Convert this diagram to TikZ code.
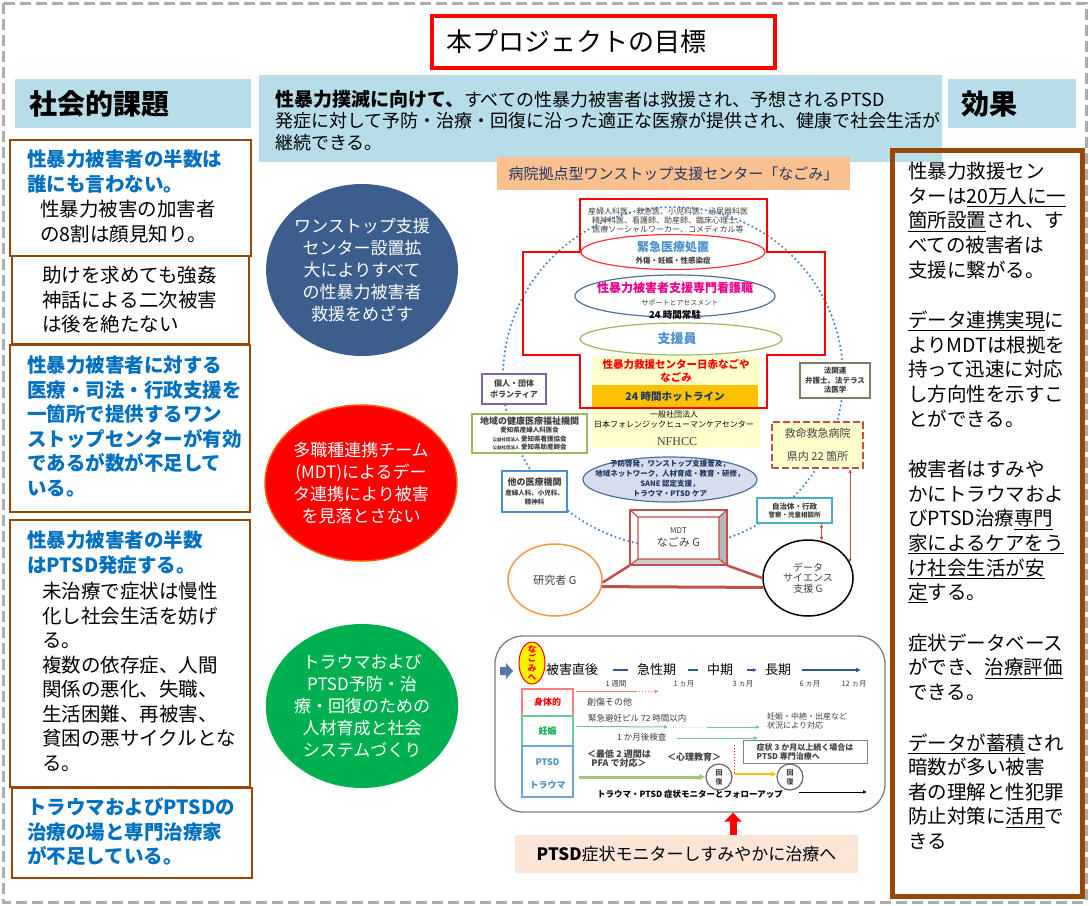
\documentclass[tikz,border=0pt]{standalone}
\usepackage{fontspec}
\setmainfont{Noto Sans CJK JP}
\newfontfamily\nfserif{Liberation Serif}
\usetikzlibrary{shapes.geometric,arrows.meta,positioning,calc}

\definecolor{hdrblue}{RGB}{183,222,232}
\definecolor{kadai}{RGB}{152,72,6}
\definecolor{txtblue}{RGB}{0,112,192}
\definecolor{circblue}{RGB}{59,94,140}
\definecolor{circgreen}{RGB}{0,176,80}
\definecolor{peach}{RGB}{250,192,143}
\definecolor{lightpeach}{RGB}{251,229,214}
\definecolor{dotblue}{RGB}{68,134,204}
\definecolor{lightyel}{RGB}{255,255,204}
\definecolor{hotline}{RGB}{255,192,0}
\definecolor{dkred}{RGB}{192,80,77}
\definecolor{navy}{RGB}{31,56,100}
\definecolor{txtgray}{RGB}{64,64,64}
\definecolor{grnline}{RGB}{155,187,89}
\definecolor{purpline}{RGB}{128,100,162}
\definecolor{houline}{RGB}{127,127,100}
\definecolor{boxblue}{RGB}{74,144,208}
\definecolor{sky}{RGB}{75,172,198}
\definecolor{yobou}{RGB}{214,222,238}
\definecolor{yoboudraw}{RGB}{79,111,160}
\definecolor{orangeline}{RGB}{247,150,70}
\definecolor{lgreen}{RGB}{102,204,153}
\definecolor{lred}{RGB}{255,124,128}
\definecolor{pfa}{RGB}{169,196,127}
\definecolor{phase}{RGB}{47,85,151}

\newcommand{\fsz}[2]{\fontsize{#1}{#2}\selectfont}

\tikzset{
  kadaibox/.style={draw=kadai, line width=2pt},
  bluetxt/.style={anchor=north west, inner sep=0pt, align=left, text=txtblue, font=\bfseries\fsz{19.5}{24.5}},
  blacktxt/.style={anchor=north west, inner sep=0pt, align=left, font=\fsz{19.5}{24.5}},
  aim/.style={ellipse, minimum width=188pt, minimum height=172pt, inner sep=0pt, text=white, align=center, font=\fsz{17}{22}},
  ell/.style={ellipse, inner sep=0pt, line width=1.2pt},
  org/.style={draw, fill=white, line width=1.2pt, inner sep=0pt, align=center, text=txtgray},
  lbl/.style={inner sep=0pt, align=center, text=txtgray},
  tltext/.style={inner sep=0pt, anchor=west, text=txtgray},
}

\begin{document}
\begin{tikzpicture}[x=1pt,y=-1pt]
\useasboundingbox (0,0) rectangle (1089,905);
\fill[white] (0,0) rectangle (1089,905);

% outer frame
\draw[gray!65, line width=3pt, dash pattern=on 11pt off 5pt] (3,3) rectangle (1086,902);

% title and headers
\draw[red, line width=4pt] (432,16) rectangle (775,68);
\node[anchor=west, inner sep=0pt, font=\fsz{26}{30}] (title) at (446,42) {本プロジェクトの目標};

\fill[hdrblue] (15,79) rectangle (251,128);
\node[anchor=west, inner sep=0pt, font=\bfseries\fsz{28}{30}] (kadaihead) at (29,104) {社会的課題};
\fill[hdrblue] (259,75) rectangle (942,162);
\node[anchor=north west, inner sep=0pt, align=left, font=\fsz{18}{21.5}] (goal) at (275,90)
  {{\bfseries\fsz{19}{21.5}性暴力撲滅に向けて、}すべての性暴力被害者は救援され、予想されるPTSD\\発症に対して予防・治療・回復に沿った適正な医療が提供され、健康で社会生活が\\継続できる。};
\fill[hdrblue] (948,79) rectangle (1076,128);
\node[anchor=west, inner sep=0pt, font=\bfseries\fsz{28}{30}] (kouka) at (961,104) {効果};

% social issues
\draw[kadaibox] (10,140) rectangle (251,256);
\node[bluetxt] (k1a) at (27,150) {性暴力被害者の半数は\\誰にも言わない。};
\node[blacktxt] (k1b) at (40,200) {性暴力被害の加害者\\の8割は顔見知り。};
\draw[kadaibox] (12,256) rectangle (249,344);
\node[blacktxt] (k2) at (42,266) {助けを求めても強姦\\神話による二次被害\\は後を絶たない};
\draw[kadaibox] (10,345) rectangle (250,512);
\node[bluetxt] (k3) at (27,356) {性暴力被害者に対する\\医療・司法・行政支援を\\一箇所で提供するワン\\ストップセンターが有効\\であるが数が不足して\\いる。};
\draw[kadaibox] (10,520) rectangle (250,787);
\node[bluetxt] (k4a) at (27,531) {性暴力被害者の半数\\はPTSD発症する。};
\node[blacktxt] (k4b) at (42,582) {未治療で症状は慢性\\化し社会生活を妨げ\\る。\\複数の依存症、人間\\関係の悪化、失職、\\生活困難、再被害、\\貧困の悪サイクルとな\\る。};
\draw[kadaibox] (12,788) rectangle (252,878);
\node[bluetxt] (k5) at (27,798) {トラウマおよびPTSDの\\治療の場と専門治療家\\が不足している。};

% aims
\node[aim, fill=circblue] (aim1) at (362,270) {ワンストップ支援\\センター設置拡\\大によりすべて\\の性暴力被害者\\救援をめざす};
\node[aim, fill=red, draw=orange!70!red, line width=1.5pt, minimum height=156pt] (aim2) at (361,483) {多職種連携チーム\\(MDT)によるデー\\タ連携により被害\\を見落とさない};
\node[aim, fill=circgreen, minimum height=164pt] (aim3) at (362,706) {トラウマおよび\\PTSD予防・治\\療・回復のための\\人材育成と社会\\システムづくり};

% hospital one-stop centre
\node[fill=peach, minimum width=353pt, minimum height=33pt, inner sep=0pt, text=navy, font=\fsz{15}{18}] (hosp) at (673.5,173.5) {病院拠点型ワンストップ支援センター「なごみ」};

\draw[dotblue, line width=2.4pt, dash pattern=on 0pt off 4.5pt, line cap=round] (673,377) circle (170pt);
\fill[lightyel] (592,356) rectangle (760,448);
\node[fill=hotline, minimum width=166pt, minimum height=23pt, inner sep=0pt, text=navy, font=\bfseries\fsz{10.5}{12}] (hotl) at (675,396.5) {24 時間ホットライン};
\draw[red, line width=2.2pt] (580,199) -- (767,199) -- (767,252) -- (825,252) -- (825,355) -- (767,355)
  -- (767,408) -- (580,408) -- (580,355) -- (523,355) -- (523,252) -- (580,252) -- cycle;

\node[lbl, font=\fsz{8}{8.7}] (staff) at (668,220.5) {産婦人科医、救急医、小児科医、泌尿器科医\\精神科医、看護師、助産師、臨床心理士、\\医療ソーシャルワーカー、コメディカル等};
\node[ell, draw=red!80, minimum width=184pt, minimum height=35pt] (kinkyu) at (673,252) {};
\node[lbl, text=boxblue, font=\bfseries\fsz{12}{13}] (kinkyut) at (673,247) {緊急医療処置};
\node[lbl, font=\bfseries\fsz{7.5}{9}] (kinkyus) at (673,261) {外傷・妊娠・性感染症};
\node[ell, draw=yoboudraw, minimum width=200pt, minimum height=42pt] (kango) at (675,296) {};
\node[lbl, text=magenta, font=\bfseries\fsz{12}{13}] (kangot) at (675,288) {性暴力被害者支援専門看護職};
\node[lbl, font=\fsz{7}{8}] (kangos) at (680,303) {サポートとアセスメント};
\node[lbl, text=black, font=\bfseries\fsz{9.5}{10}] (kango24) at (675,315) {24 時間常駐};
\node[ell, draw=grnline, minimum width=202pt, minimum height=32pt] (shienin) at (681,339) {};
\node[lbl, text=boxblue, font=\bfseries\fsz{13}{14}] (shienint) at (677,339) {支援員};
\node[lbl, text=red, font=\bfseries\fsz{10.5}{12.5}] (nagoya) at (676,371) {性暴力救援センター日赤なごや\\なごみ};
\node[lbl, text=black, font=\fsz{8}{9.5}] (nfhcc) at (674,419.5) {一般社団法人\\日本フォレンジックヒューマンケアセンター};
\node[lbl, font=\nfserif\fsz{12}{13}] (nfhccs) at (677,442) {NFHCC};

\node[org, draw=purpline, minimum width=64pt, minimum height=30pt, font=\bfseries\fsz{8}{10.5}] (kojin) at (514,389) {個人・団体\\ボランティア};
\node[org, draw=houline, minimum width=70pt, minimum height=35pt, font=\bfseries\fsz{7.5}{9.5}] (houkan) at (835,380.5) {法関連\\弁護士、法テラス\\法医学};
\node[org, draw=grnline, minimum width=115pt, minimum height=39pt, font=\bfseries\fsz{6.5}{8.5}] (chiiki) at (529.5,433.5)
  {{\fsz{9}{10}地域の健康医療福祉機関}\\愛知県産婦人科医会\\{\fsz{4.5}{8.5}公益社団法人}\ 愛知県看護協会\\{\fsz{4.5}{8.5}公益社団法人}\ 愛知県助産師会};
\node[org, draw=boxblue, minimum width=65pt, minimum height=41pt, font=\bfseries\fsz{6.5}{9.5}] (hoka) at (534.5,491.5) {{\fsz{9}{10}他の医療機関}\\産婦人科、小児科、\\精神科};
\node[org, draw=dkred, dash pattern=on 7pt off 3pt, fill=lightyel, line width=2pt, minimum width=91pt, minimum height=46pt, font=\fsz{11}{23}] (kyumei) at (817.5,445) {救命救急病院\\県内 22 箇所};
\node[org, draw=sky, minimum width=75pt, minimum height=25pt, font=\bfseries\fsz{7.5}{8.5}] (jichi) at (794.5,510.5) {自治体・行政\\{\fsz{6.5}{8.5}警察・児童相談所}};
\node[ell, fill=yobou, draw=yoboudraw, minimum width=174pt, minimum height=45pt] (yobou) at (670,479.5) {};
\node[lbl, text=navy, font=\bfseries\fsz{7.5}{9.8}] (yoboutxt) at (670,478.5) {予防啓発，ワンストップ支援普及，\\地域ネットワーク，人材育成・教育・研修，\\SANE 認定支援，\\トラウマ・PTSD ケア};

% MDT frame
\fill[gray!55] (727,510) -- (727,565) -- (719,559) -- (719,517) -- cycle;
\fill[gray!40] (630,565) -- (727,565) -- (719,559) -- (638,559) -- cycle;
\fill[white] (638,517) rectangle (719,559);
\draw[dkred, line width=1.2pt] (638,517) rectangle (719,559) (630,510) -- (638,517) (727,510) -- (719,517) (727,565) -- (719,559) (630,565) -- (638,559);
\node[draw=dkred, line width=1.2pt, minimum width=97pt, minimum height=55pt, inner sep=0pt, align=center, text=txtgray, font=\fsz{11}{13}] (mdt) at (678.5,537.5) {{\fsz{8}{13}MDT}\\なごみ G};

\node[ell, draw=orangeline, line width=1.5pt, minimum width=94pt, minimum height=72pt, text=txtgray, font=\fsz{11}{12}] (kenkyu) at (555,580) {研究者 G};
\node[ell, draw=black, line width=1.5pt, minimum width=90pt, minimum height=76pt, align=center, text=txtgray, font=\fsz{10}{10.5}] (datasci) at (808,578) {データ\\サイエンス\\支援 G};

\draw[dkred, line width=2.5pt] (mdt.south west) -- (kenkyu.-3);
\draw[dkred, line width=2.5pt] (mdt.south east) -- (datasci.180);
\draw[dkred, line width=3pt] (kenkyu.-8) -- (datasci.-168);
\draw[dkred, line width=0.8pt, {Latex[length=4pt,width=3.5pt]}-{Latex[length=4pt,width=3.5pt]}] (datasci.70) -- (datasci.70 |- jichi.south);
\draw[dkred, line width=0.8pt, {Latex[length=4pt,width=3.5pt]}-{Latex[length=4pt,width=3.5pt]}] (datasci.20) -- (datasci.20 |- kyumei.south);

% time line
\node[draw=gray, line width=1.3pt, rounded corners=28pt, minimum width=390pt, minimum height=176pt] (tline) at (690,724) {};
\fill[phase!80] (500,667) -- (506,667) -- (506,663) -- (513,671) -- (506,679) -- (506,675) -- (500,675) -- cycle;
\node[ell, draw=red, fill=yellow, line width=1pt, minimum width=26pt, minimum height=42pt] (nagomi) at (532,663) {};
\node[lbl, text=red, font=\bfseries\fsz{8.5}{9.5}] (nagomit) at (nagomi) {な\\ご\\み\\へ};

\node[tltext, text=black, font=\fsz{13}{14}] (p0) at (546,670) {被害直後};
\node[tltext, text=black, font=\fsz{13}{14}] (p1) at (637,670) {急性期};
\node[tltext, text=black, font=\fsz{13}{14}] (p2) at (707,670) {中期};
\node[tltext, text=black, font=\fsz{13}{14}] (p3) at (765,670) {長期};
\coordinate (tend) at (861,670);
\draw[phase, line width=1.6pt] ([xshift=15pt]p0.east) -- ([xshift=-9pt]p1.west);
\draw[phase, line width=1.6pt] ([xshift=12pt]p1.east) -- ([xshift=-9pt]p2.west);
\draw[phase, line width=1.6pt, -{Latex[length=4pt,width=4pt]}] ([xshift=14pt]p2.east) -- ([xshift=-8pt]p3.west);
\draw[phase, line width=1.6pt, -{Latex[length=5pt,width=5pt]}] ([xshift=11pt]p3.east) -- (tend);
\foreach \x/\t in {616/1 週間, 684/1 ヵ月, 743/3 ヵ月, 810/6 ヵ月, 854/12 ヵ月}
  \node[lbl, font=\fsz{7.5}{8}] (mark\x) at (\x,684) {\t};

\node[draw=lred, line width=1.2pt, minimum width=51pt, minimum height=27pt, inner sep=0pt, text=red, font=\bfseries\fsz{9}{10}] (shintai) at (547.5,702.5) {身体的};
\node[draw=lgreen, line width=1.2pt, minimum width=51pt, minimum height=30pt, inner sep=0pt, text=circgreen, font=\bfseries\fsz{9}{10}] (ninshin) at (547.5,731) {妊娠};
\node[draw=boxblue!80, line width=1.2pt, minimum width=51pt, minimum height=51pt, inner sep=0pt] (ptsdrow) at (547.5,771.5) {};
\node[lbl, text=boxblue, font=\bfseries\fsz{9}{10}] (ptsdt) at (547.5,762) {PTSD};
\node[lbl, text=boxblue, font=\bfseries\fsz{9}{10}] (traumat) at (547.5,785) {トラウマ};

\draw[lred, line width=1pt] ([yshift=-3pt,xshift=2pt]shintai.north east) -- ++(60,0) coordinate (sh1);
\draw[lred, line width=1pt, dotted, -{Latex[length=4pt,width=4pt]}] (sh1) -- ++(23,0);
\node[tltext, font=\fsz{9}{10}] (soushou) at (587,702) {創傷その他};
\node[tltext, font=\fsz{8.5}{9.5}] (pill) at (588,718) {緊急避妊ピル 72 時間以内};
\draw[lgreen, line width=1pt, -{Latex[length=4pt,width=4pt]}] ([yshift=-11pt,xshift=2pt]ninshin.north east) -- (668,727);
\draw[lgreen!50, line width=1pt, dotted] (670,727) -- (705,727);
\draw[lgreen, line width=1pt, -{Latex[length=4pt,width=4pt]}] (707,727) -- (760,727);
\node[tltext, anchor=north west, align=left, font=\fsz{8}{9}] (ninshin2) at (767,713) {妊娠・中絶・出産など\\状況により対応};
\node[tltext, font=\fsz{8.5}{9.5}] (kensa) at (617,737) {1 か月後検査};
\draw[lgreen, line width=1pt, -{Latex[length=4pt,width=4pt]}] (677,738) -- (758,738);
\node[draw=gray, line width=1pt, minimum width=124pt, minimum height=23pt, inner sep=0pt, align=left, text=txtgray, font=\bfseries\fsz{8}{9}] (senmon) at (805,751.5) {症状 3 か月以上続く場合は\\PTSD 専門治療へ};
\node[tltext, anchor=north west, align=left, font=\bfseries\fsz{9}{9}] (pfatxt) at (587,750) {＜最低 2 週間は\\\ \ PFA で対応＞};
\node[tltext, font=\bfseries\fsz{9}{10}] (shinri) at (667,757) {＜心理教育＞};
\node[circle, draw=gray!80!black, fill=white, line width=1.2pt, minimum size=26pt, inner sep=0pt, align=center, text=txtgray, font=\bfseries\fsz{7}{9}] (kaifuku1) at (719,777) {回\\復};
\node[circle, draw=gray!80!black, fill=white, line width=1.2pt, minimum size=26pt, inner sep=0pt, align=center, text=txtgray, font=\bfseries\fsz{7}{9}] (kaifuku2) at (790,777) {回\\復};
\draw[pfa, line width=3pt, -{Latex[length=6pt,width=7pt]}] ($(ptsdrow.east |- kaifuku1.west)+(5,0)$) -- (kaifuku1.west);
\coordinate (turn) at (734,774);
\draw[red, line width=1pt, dotted] (734,745) -- (turn);
\draw[hotline, line width=2.5pt, -{Latex[length=5pt,width=6pt]}] (turn) -- (kaifuku2.west |- turn);
\node[tltext, text=black, font=\bfseries\fsz{8.5}{9}] (monitor) at (597,794) {トラウマ・PTSD 症状モニターとフォローアップ};
\coordinate (mend) at (867,792);
\draw[black, line width=0.8pt, -{Latex[length=4pt,width=4pt]}] ([xshift=16pt]monitor.east |- mend) -- (mend);

% callout
\node[fill=lightpeach, minimum width=343pt, minimum height=38pt, inner sep=0pt, font=\fsz{17}{20}] (callout) at (686.5,854) {{\bfseries PTSD}症状モニターしすみやかに治療へ};
\coordinate (upx) at (733,0);
\draw[red, line width=7pt, -{Triangle[length=9pt,width=17pt]}] (callout.north -| upx) -- (tline.south -| upx);

% effects
\draw[kadai, line width=5pt] (892,150) rectangle (1082,896);
\node[blacktxt, font=\fsz{19.5}{24.6}] (eff) at (908,162)
  {性暴力救援セン\\ターは\underline{20万人に一}\\\underline{箇所設置}され、す\\べての被害者は\\支援に繋がる。\\[26pt]
   \underline{データ連携実現}に\\よりMDTは根拠を\\持って迅速に対応\\し方向性を示すこ\\とができる。\\[26pt]
   被害者はすみや\\かにトラウマおよ\\びPTSD治療\underline{専門}\\\underline{家によるケアをう}\\\underline{け社会生活が安}\\\underline{定}する。\\[26pt]
   症状データベース\\ができ、\underline{治療評価}\\できる。\\[26pt]
   \underline{データが蓄積}され\\暗数が多い被害\\者の理解と性犯罪\\防止対策に\underline{活用}で\\きる};
\end{tikzpicture}
\end{document}
